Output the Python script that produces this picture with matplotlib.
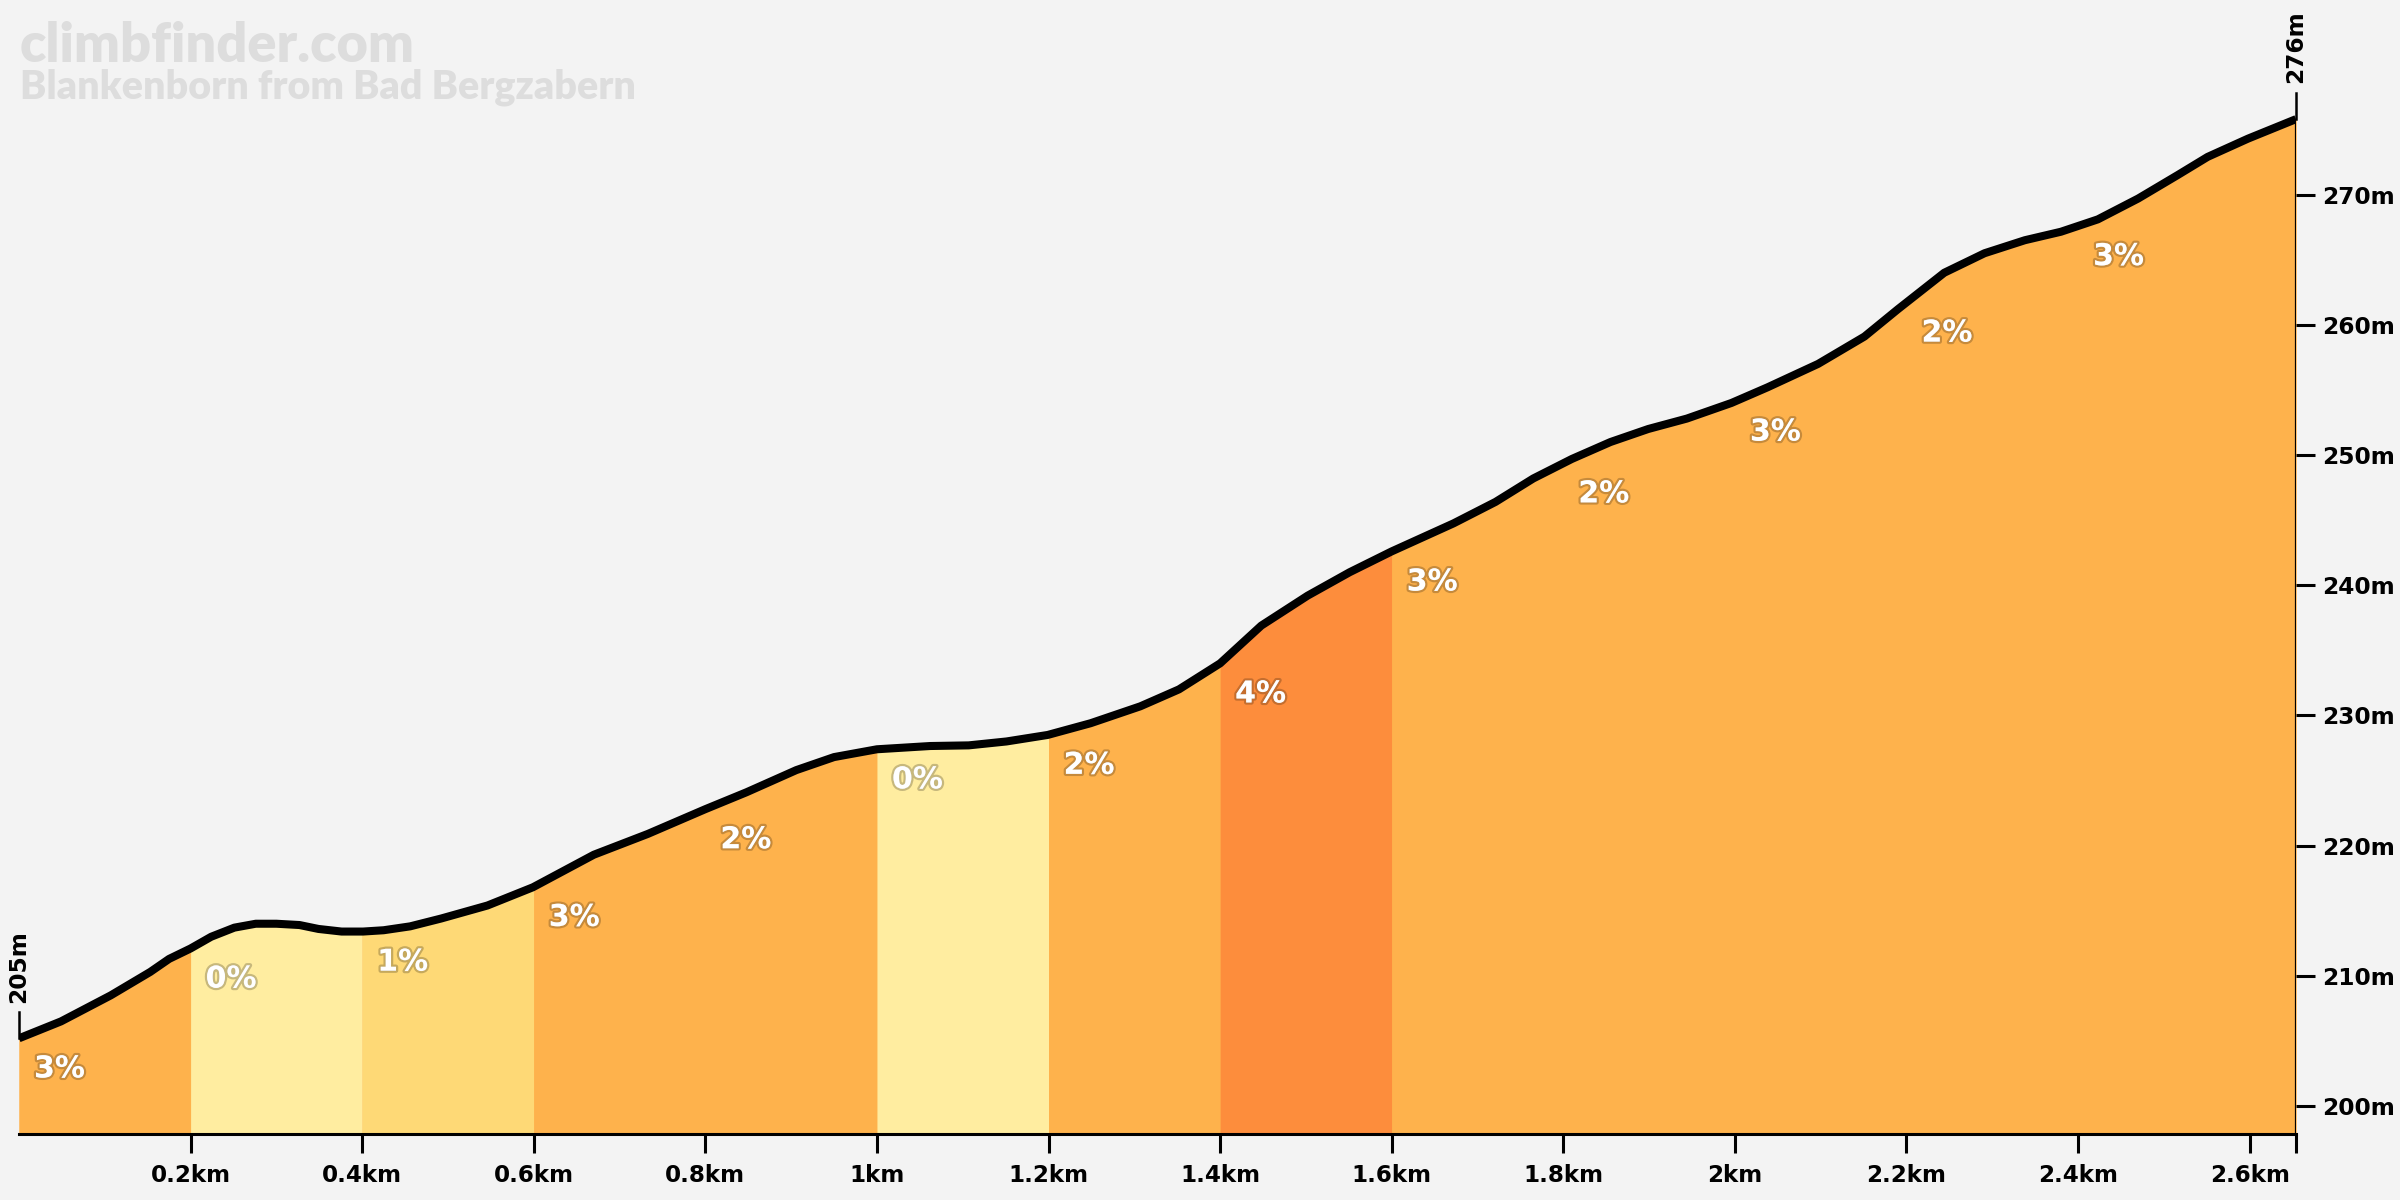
import numpy as np
import matplotlib
matplotlib.use("Agg")
import matplotlib.pyplot as plt
import matplotlib.patheffects as pe

# profile (distance km, elevation m)
dist = [0.000, 0.049, 0.107, 0.153, 0.175, 0.200, 0.224, 0.251, 0.276, 0.300,
        0.327, 0.349, 0.376, 0.401, 0.425, 0.456, 0.492, 0.546, 0.599, 0.670,
        0.733, 0.800, 0.848, 0.906, 0.950, 1.000, 1.062, 1.107, 1.151, 1.199,
        1.249, 1.307, 1.352, 1.400, 1.448, 1.502, 1.551, 1.600, 1.672, 1.721,
        1.765, 1.810, 1.855, 1.899, 1.944, 1.996, 2.038, 2.097, 2.151, 2.190,
        2.244, 2.291, 2.338, 2.380, 2.423, 2.470, 2.516, 2.551, 2.598, 2.654]
elev = [205.2, 206.5, 208.5, 210.3, 211.3, 212.1, 213.0, 213.7, 214.0, 214.0,
        213.9, 213.6, 213.4, 213.4, 213.5, 213.8, 214.4, 215.4, 216.8, 219.3,
        220.9, 222.8, 224.1, 225.8, 226.8, 227.4, 227.65, 227.7, 228.0, 228.5,
        229.4, 230.7, 232.0, 234.0, 236.9, 239.2, 241.0, 242.6, 244.75, 246.4,
        248.2, 249.7, 251.0, 252.0, 252.8, 254.0, 255.2, 257.0, 259.1, 261.2,
        264.0, 265.5, 266.5, 267.15, 268.1, 269.7, 271.5, 272.9, 274.3, 275.8]

seg_start = [0.0, 0.2, 0.4, 0.6, 0.8, 1.0, 1.2, 1.4, 1.6, 1.8, 2.0, 2.2, 2.4]
seg_grade = [3, 0, 1, 3, 2, 0, 2, 4, 3, 2, 3, 2, 3]

xticks = [0.2, 0.4, 0.6, 0.8, 1.0, 1.2, 1.4, 1.6, 1.8, 2.0, 2.2, 2.4, 2.6]
xlabels = ["0.2km", "0.4km", "0.6km", "0.8km", "1km", "1.2km", "1.4km",
           "1.6km", "1.8km", "2km", "2.2km", "2.4km", "2.6km"]
yticks = [200, 210, 220, 230, 240, 250, 260, 270]
ylabels = ["200m", "210m", "220m", "230m", "240m", "250m", "260m", "270m"]

title = "climbfinder.com"
subtitle = "Blankenborn from Bad Bergzabern"

grade_colors = {0: "#ffeda0", 1: "#fed976", 2: "#feb24c", 3: "#feb24c", 4: "#fd8d3c"}

dist = np.array(dist)
elev = np.array(elev)
total = dist[-1]
base = 197.85
bg = "#f3f3f3"

fig = plt.figure(figsize=(12, 6), dpi=200, facecolor=bg)
ax = fig.add_axes([19 / 2400, 66 / 1200, (2296 - 19) / 2400, 1134 / 1200])
ax.set_facecolor(bg)
ax.set_xlim(0, total)
ax.set_ylim(base, 284.95)

# base fill so same-coloured neighbours show no seam
ax.fill_between(dist, elev, base, color=grade_colors[2], lw=0, zorder=1)

bounds = seg_start + [total]
for i, g in enumerate(seg_grade):
    a, b = bounds[i], bounds[i + 1]
    inner = dist[(dist > a) & (dist < b)]
    xs = np.concatenate([[a], inner, [b]])
    ys = np.interp(xs, dist, elev)
    ax.fill_between(xs, ys, base, color=grade_colors[g], lw=0, zorder=1)
    ya = np.interp(a, dist, elev)
    ax.text(a + 0.0175, ya - 2.35, f"{g}%", color="white", fontsize=10.8,
            fontweight="bold", ha="left", va="center", zorder=4,
            path_effects=[pe.withStroke(linewidth=1.6, foreground=(0, 0, 0, 0.22))])

ax.plot(dist, elev, color="black", lw=2.9, solid_joinstyle="round",
        solid_capstyle="butt", zorder=3)

# right edge of the profile
ax.vlines(total, base, elev[-1], color="black", lw=0.8, zorder=3)

for s in ["left", "top", "right"]:
    ax.spines[s].set_visible(False)
ax.spines["bottom"].set_linewidth(1.1)
ax.spines["bottom"].set_zorder(5)

ax.set_xticks(xticks + [total])
ax.set_xticklabels(xlabels + [""])
ax.tick_params(axis="x", length=6.8, width=1.1, pad=4.0, labelsize=8.3)
ax.yaxis.tick_right()
ax.set_yticks(yticks)
ax.set_yticklabels(ylabels)
ax.tick_params(axis="y", length=6.8, width=1.1, pad=2.5, labelsize=8.4)
for lab in ax.get_xticklabels() + ax.get_yticklabels():
    lab.set_fontweight("bold")

# start / end elevation markers
for x, y, txt in [(0, elev[0], "205m"), (total, elev[-1], "276m")]:
    ax.plot([x, x], [y, y + 2.0], color="black", lw=0.9, clip_on=False, zorder=3)
    ax.text(x, y + 2.75, txt, rotation=90, ha="center", va="bottom",
            fontsize=8.4, fontweight="bold", clip_on=False)

fig.text(20 / 2400, 1 - 62 / 1200, title, fontsize=19.5, fontweight="heavy",
         color="#dddddd", va="baseline", ha="left", family=["Lato", "DejaVu Sans"])
fig.text(20 / 2400, 1 - 99 / 1200, subtitle, fontsize=14.2, fontweight="heavy",
         color="#dddddd", va="baseline", ha="left", family=["Lato", "DejaVu Sans"])

fig.savefig("out.png", dpi=200, facecolor=bg)
